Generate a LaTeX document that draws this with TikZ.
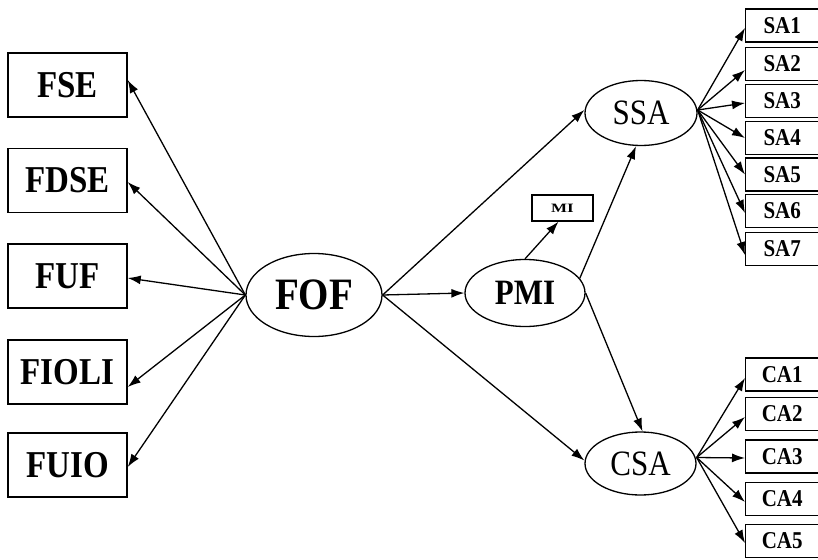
\documentclass[tikz,border=0pt]{standalone}
\usepackage{fontspec}
\setmainfont{Liberation Serif}
\usetikzlibrary{shapes.geometric,arrows.meta}
\newcommand{\tall}[1]{\scalebox{1}[1.15]{#1}}
\begin{document}
\begin{tikzpicture}[x=1pt,y=-1pt,
  lbox/.style={draw,line width=1.4pt,rectangle,minimum width=119pt,minimum height=64pt,inner sep=0pt,font=\fontsize{33}{33}\selectfont\bfseries},
  sbox/.style={draw,line width=1.4pt,rectangle,minimum width=76pt,minimum height=33pt,inner sep=0pt,anchor=west,font=\fontsize{21}{21}\selectfont\bfseries},
  ell/.style={draw,line width=1.3pt,ellipse,inner sep=0pt},
  arr/.style={line width=1.3pt,-{Latex[length=13pt,width=9pt]}}]
\useasboundingbox (0,0) rectangle (818,559);
% left boxes
\node[lbox] (FSE) at (67.5,85) {\tall{FSE}};
\node[lbox] (FDSE) at (67.5,180.5) {\tall{FDSE}};
\node[lbox] (FUF) at (67.5,276) {\tall{FUF}};
\node[lbox] (FIOLI) at (67.5,372) {\tall{FIOLI}};
\node[lbox] (FUIO) at (67.5,465) {\tall{FUIO}};
% ellipses
\node[ell,minimum width=136pt,minimum height=83pt,font=\fontsize{39}{39}\selectfont\bfseries] (FOF) at (314,295) {\tall{FOF}};
\node[ell,minimum width=120pt,minimum height=67pt,font=\fontsize{31}{31}\selectfont\bfseries] (PMI) at (525,293) {\tall{PMI}};
\node[ell,minimum width=112pt,minimum height=65pt,font=\fontsize{31}{31}\selectfont] (SSA) at (641,113) {\tall{SSA}};
\node[ell,minimum width=111pt,minimum height=63pt,font=\fontsize{31}{31}\selectfont] (CSA) at (640.5,463.5) {\tall{CSA}};
\node[draw,line width=1.3pt,rectangle,minimum width=61pt,minimum height=26pt,inner sep=0pt,font=\fontsize{17}{17}\selectfont\bfseries] (MI) at (562.5,208) {\scalebox{1}[0.75]{MI}};
% SA boxes
\node[sbox] (SA1) at (745,25.5) {\hspace*{-3pt}\tall{SA1}};
\node[sbox] (SA2) at (745,64) {\hspace*{-3pt}\tall{SA2}};
\node[sbox] (SA3) at (745,101) {\hspace*{-3pt}\tall{SA3}};
\node[sbox] (SA4) at (745,138) {\hspace*{-3pt}\tall{SA4}};
\node[sbox] (SA5) at (745,174.5) {\hspace*{-3pt}\tall{SA5}};
\node[sbox] (SA6) at (745,211) {\hspace*{-3pt}\tall{SA6}};
\node[sbox] (SA7) at (745,249) {\hspace*{-3pt}\tall{SA7}};
% CA boxes
\node[sbox] (CA1) at (745,374.5) {\hspace*{-3pt}\tall{CA1}};
\node[sbox] (CA2) at (745,414) {\hspace*{-3pt}\tall{CA2}};
\node[sbox] (CA3) at (745,456.5) {\hspace*{-3pt}\tall{CA3}};
\node[sbox] (CA4) at (745,499) {\hspace*{-3pt}\tall{CA4}};
\node[sbox] (CA5) at (745,541) {\hspace*{-3pt}\tall{CA5}};
% FOF to left boxes
\draw[arr] (FOF.west) -- ([yshift=5pt]FSE.east);
\draw[arr] (FOF.west) -- ([yshift=-1.5pt]FDSE.east);
\draw[arr] (FOF.west) -- ([yshift=-2pt]FUF.east);
\draw[arr] (FOF.west) -- ([yshift=-15pt]FIOLI.east);
\draw[arr] (FOF.west) -- ([yshift=-2pt]FUIO.east);
% FOF to right
\draw[arr] (FOF.east) -- ([yshift=3pt]SSA.west);
\draw[arr] (FOF.east) -- (PMI.west);
\draw[arr] (FOF.east) -- ([yshift=3pt]CSA.west);
% PMI
\draw[arr] (PMI.north) -- ([xshift=-4pt]MI.south);
\draw[arr] (PMI.15) -- ([xshift=-5pt]SSA.south);
\draw[arr] (PMI.east) -- ([xshift=2pt]CSA.north);
% SSA
\coordinate (s0) at ([yshift=3pt]SSA.east);
\draw[arr] (s0) -- ([yshift=-2.5pt]SA1.west);
\draw[arr] (s0) -- ([yshift=-6pt]SA2.west);
\draw[arr] (s0) -- ([yshift=-2pt]SA3.west);
\draw[arr] (s0) -- (SA4.west);
\draw[arr] (s0) -- (SA5.west);
\draw[arr] (s0) -- ([yshift=-2pt]SA6.west);
\draw[arr] (s0) -- ([yshift=-6pt]SA7.west);
% CSA
\coordinate (c0) at ([yshift=6pt]CSA.east);
\draw[arr] (c0) -- ([yshift=-3.5pt]CA1.west);
\draw[arr] (c0) -- ([yshift=-3pt]CA2.west);
\draw[arr] (c0) -- ([yshift=-1.5pt]CA3.west);
\draw[arr] (c0) -- ([yshift=-3pt]CA4.west);
\draw[arr] (c0) -- ([yshift=-2pt]CA5.west);
\end{tikzpicture}
\end{document}
